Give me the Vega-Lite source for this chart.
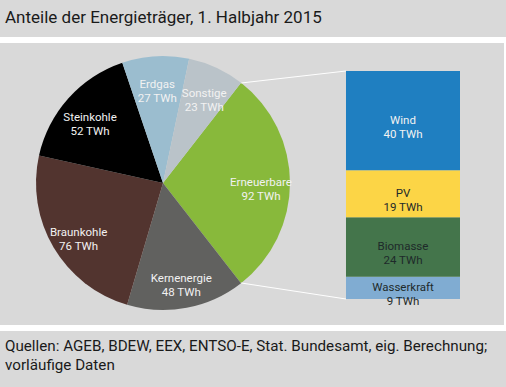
{
  "$schema": "https://vega.github.io/schema/vega-lite/v6.json",
  "padding": 0,
  "background": "white",
  "spacing": 6,
  "config": {
    "view": {"fill": "#d9d9d9", "stroke": null},
    "font": "Roboto"
  },
  "datasets": {
    "pie": [
      {"name": "Erneuerbare", "value": 92, "ord": 1},
      {"name": "Kernenergie", "value": 48, "ord": 2},
      {"name": "Braunkohle", "value": 76, "ord": 3},
      {"name": "Steinkohle", "value": 52, "ord": 4},
      {"name": "Erdgas", "value": 27, "ord": 5},
      {"name": "Sonstige", "value": 23, "ord": 6}
    ],
    "bar": [
      {"name": "Wasserkraft", "value": 9, "ord": 1},
      {"name": "Biomasse", "value": 24, "ord": 2},
      {"name": "PV", "value": 19, "ord": 3},
      {"name": "Wind", "value": 40, "ord": 4}
    ],
    "titel": [{"t": "Anteile der Energieträger, 1. Halbjahr 2015"}],
    "quelle": [{"t": "Quellen: AGEB, BDEW, EEX, ENTSO-E, Stat. Bundesamt, eig. Berechnung;\nvorläufige Daten"}]
  },
  "vconcat": [
    {
      "width": 506,
      "height": 37,
      "data": {"name": "titel"},
      "mark": {"type": "text", "align": "left", "baseline": "middle", "fontSize": 17, "color": "#1a1a1a", "dx": 5, "dy": -1},
      "encoding": {
        "x": {"datum": 0, "type": "quantitative", "scale": {"domain": [0, 1]}, "axis": null},
        "y": {"datum": 0.5, "type": "quantitative", "scale": {"domain": [0, 1]}, "axis": null},
        "text": {"field": "t"}
      }
    },
    {
      "width": 504,
      "height": 282,
      "layer": [
        {
          "data": {"name": "bar"},
          "transform": [{"stack": "value", "groupby": [], "sort": [{"field": "ord", "order": "ascending"}], "as": ["y0", "y1"]}],
          "mark": {"type": "bar"},
          "encoding": {
            "x": {"datum": 68.65, "type": "quantitative", "scale": {"domain": [0, 100], "nice": false, "zero": false}, "axis": null},
            "x2": {"datum": 91.27},
            "y": {"field": "y0", "type": "quantitative", "stack": null, "scale": {"domain": [-10.49, 103.3], "nice": false, "zero": false}, "axis": null},
            "y2": {"field": "y1"},
            "color": {
              "field": "name", "type": "nominal", "legend": null,
              "scale": {
                "domain": ["Erneuerbare", "Kernenergie", "Braunkohle", "Steinkohle", "Erdgas", "Sonstige", "Wind", "PV", "Biomasse", "Wasserkraft"],
                "range": ["#88b93b", "#61615f", "#52342f", "#000000", "#9bbdcf", "#bac3c9", "#1f7fc1", "#fcd546", "#44754b", "#80acd2"]
              }
            }
          }
        },
        {
          "data": {"name": "bar"},
          "transform": [
            {"stack": "value", "groupby": [], "sort": [{"field": "ord", "order": "ascending"}], "as": ["y0", "y1"]},
            {"calculate": "(datum.y0 + datum.y1) / 2", "as": "ym"},
            {"calculate": "datum.name + '\\n' + datum.value + ' TWh'", "as": "lab"}
          ],
          "mark": {"type": "text", "align": "center", "baseline": "middle", "fontSize": 11.5, "lineBreak": "\n", "lineHeight": 14},
          "encoding": {
            "x": {"datum": 79.96, "type": "quantitative"},
            "y": {"field": "ym", "type": "quantitative", "stack": null},
            "text": {"field": "lab"},
            "color": {"condition": {"test": "datum.name === 'Wind'", "value": "#f2f2f2"}, "value": "#1e2a2a"}
          }
        },
        {
          "data": {"name": "pie"},
          "mark": {"type": "arc", "outerRadius": 127},
          "encoding": {
            "x": {"datum": 32.34, "type": "quantitative"},
            "y": {"datum": 46.81, "type": "quantitative"},
            "theta": {"field": "value", "type": "quantitative", "stack": true, "scale": {"range": [0.6619, 6.9451]}},
            "order": {"field": "ord", "type": "quantitative"},
            "color": {"field": "name", "type": "nominal"}
          }
        },
        {
          "data": {"name": "pie"},
          "transform": [{"calculate": "datum.name + '\\n' + datum.value + ' TWh'", "as": "lab"}],
          "mark": {"type": "text", "radius": 98, "align": "center", "baseline": "middle", "fontSize": 11.5, "lineBreak": "\n", "lineHeight": 14, "color": "#f2f2f2"},
          "encoding": {
            "x": {"datum": 32.34, "type": "quantitative"},
            "y": {"datum": 46.81, "type": "quantitative"},
            "theta": {"field": "value", "type": "quantitative", "stack": true},
            "order": {"field": "ord", "type": "quantitative"},
            "text": {"field": "lab"}
          }
        },
        {
          "data": {"values": [{}]},
          "mark": {"type": "rule", "color": "white", "strokeWidth": 1},
          "encoding": {
            "x": {"datum": 47.86, "type": "quantitative"},
            "y": {"datum": 87.16, "type": "quantitative"},
            "x2": {"datum": 68.65},
            "y2": {"datum": 92}
          }
        },
        {
          "data": {"values": [{}]},
          "mark": {"type": "rule", "color": "white", "strokeWidth": 1},
          "encoding": {
            "x": {"datum": 47.86, "type": "quantitative"},
            "y": {"datum": 6.46, "type": "quantitative"},
            "x2": {"datum": 68.65},
            "y2": {"datum": 0}
          }
        }
      ]
    },
    {
      "width": 506,
      "height": 56,
      "data": {"name": "quelle"},
      "mark": {"type": "text", "align": "left", "baseline": "top", "fontSize": 15.2, "color": "#1a1a1a", "dx": 5, "lineBreak": "\n", "lineHeight": 19},
      "encoding": {
        "x": {"datum": 0, "type": "quantitative", "scale": {"domain": [0, 1]}, "axis": null},
        "y": {"datum": 8, "type": "quantitative", "scale": {"domain": [56, 0]}, "axis": null},
        "text": {"field": "t"}
      }
    }
  ]
}
